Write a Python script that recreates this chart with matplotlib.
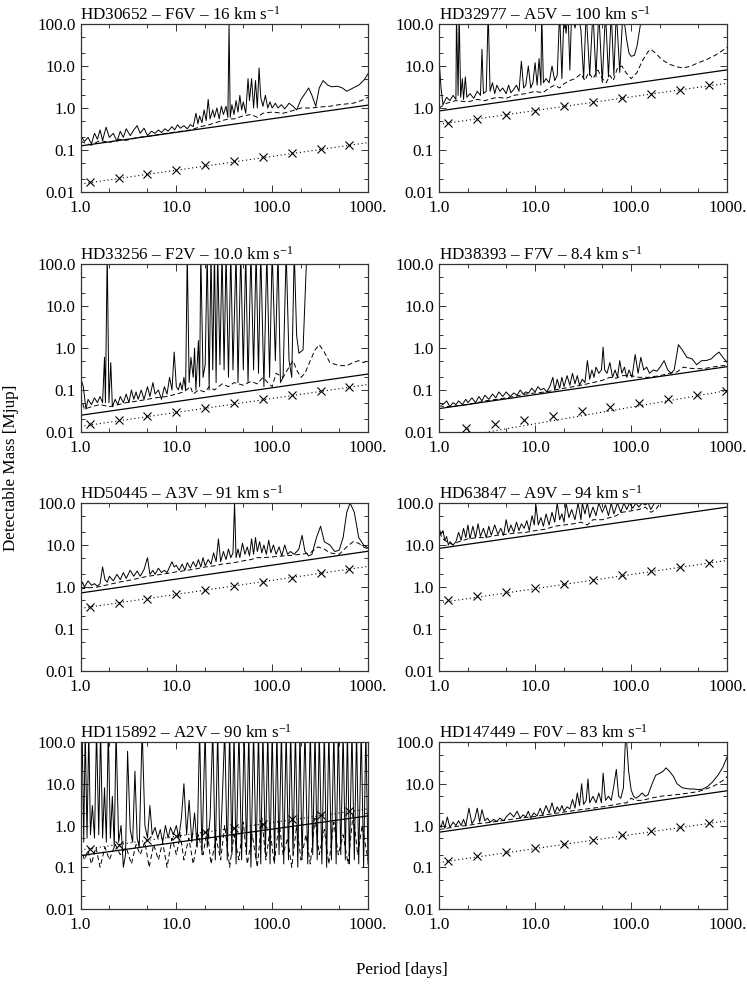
import numpy as np
import matplotlib
matplotlib.use("Agg")
import matplotlib.pyplot as plt
from matplotlib.ticker import FixedLocator, NullFormatter

plt.rcParams["font.family"] = ["Liberation Serif", "DejaVu Serif"]
plt.rcParams["mathtext.fontset"] = "custom"
plt.rcParams["mathtext.rm"] = "Liberation Serif"
plt.rcParams["mathtext.it"] = "Liberation Serif:italic"

# ---- data: (period [d], detectable mass [Mjup]) ----
titles = [
    r"HD30652 – F6V – 16 km s$^{-1}$",
    r"HD32977 – A5V – 100 km s$^{-1}$",
    r"HD33256 – F2V – 10.0 km s$^{-1}$",
    r"HD38393 – F7V – 8.4 km s$^{-1}$",
    r"HD50445 – A3V – 91 km s$^{-1}$",
    r"HD63847 – A9V – 94 km s$^{-1}$",
    r"HD115892 – A2V – 90 km s$^{-1}$",
    r"HD147449 – F0V – 83 km s$^{-1}$",
]

hd30652_solid = [(1.0, .22), (1.1, .16), (1.2, .2), (1.3, .14), (1.4, .25), (1.5, .18), (1.6, .3), (1.7, .17),
                 (1.85, .35), (2.0, .2), (2.2, .25), (2.4, .16), (2.6, .28), (2.8, .2), (3.0, .32), (3.3, .22),
                 (3.6, .3), (3.9, .38), (4.2, .25), (4.6, .33), (5.0, .22), (5.5, .28), (6.0, .25), (6.5, .3),
                 (7.0, .26), (7.6, .32), (8.2, .28), (9.0, .36), (9.6, .3), (10.3, .4), (11, .33), (12, .38),
                 (13, .32), (14, .4), (15, .36), (16, .75), (16.8, .42), (17.5, .65), (18.5, .45), (19.5, .9),
                 (20.5, .5), (21.5, 1.6), (22.5, .55), (24, .9), (25, .6), (26.5, 1.0), (28, .55), (29.5, 1.1),
                 (31, .7), (33, 1.1), (34.5, .6), (35.5, 100), (36.5, .6), (38, 1.2), (40, .7), (42, 1.5),
                 (44, .8), (46, 2.0), (48, .9), (50, 1.4), (53, .75), (56, 5.0), (58, 1.5), (61, 5.0), (64, 1.0),
                 (67, 4.5), (70, 1.0), (73, 9.0), (76, 1.8), (80, 1.1), (85, 2.0), (90, 1.0), (95, 1.4),
                 (100, 1.0), (108, 1.3), (115, 1.0), (125, 1.2), (135, .95), (150, 1.3), (165, 1.1), (180, .9),
                 (200, 1.6), (220, 2.2), (240, 3.0), (260, 2.0), (285, 1.1), (310, 3.0), (340, 4.5), (380, 3.5),
                 (420, 3.2), (480, 3.3), (540, 3.0), (600, 2.5), (700, 3.0), (800, 3.5), (900, 4.5), (1000, 6.5)]
hd30652_dash = [(1.0, .16), (1.3, .13), (1.6, .17), (2.0, .15), (2.5, .18), (3.0, .17), (4.0, .2), (5.0, .21),
                (7, .24), (10, .27), (14, .3), (18, .36), (22, .4), (26, .45), (30, .5), (35, .55), (40, .55),
                (50, .65), (60, .7), (70, .6), (80, .75), (100, .8), (130, .75), (160, .85), (200, 1.0),
                (260, 1.0), (300, 1.05), (400, 1.1), (500, 1.2), (700, 1.3), (850, 1.5), (1000, 1.8)]

hd32977_solid = [(1.0, 15), (1.05, 3), (1.1, 1.2), (1.2, 1.8), (1.3, 1.5), (1.4, 2.0), (1.5, 1.6), (1.52, 200),
                 (1.58, 2.0), (1.62, 200), (1.68, 1.8), (1.75, 5.0), (1.8, 1.6), (1.88, 5.5), (1.95, 1.8),
                 (2.1, 2.2), (2.3, 1.7), (2.5, 2.5), (2.7, 2.0), (2.8, 25), (2.9, 2.2), (3.1, 2.5), (3.25, 200),
                 (3.4, 2.5), (3.6, 4.0), (3.8, 2.2), (4.0, 3.5), (4.3, 2.5), (4.6, 3.0), (5.0, 2.2), (5.3, 3.5),
                 (5.6, 2.3), (6.0, 2.8), (6.4, 3.5), (6.8, 2.5), (7.2, 13), (7.6, 3.0), (8.0, 3.5), (8.5, 10),
                 (9.0, 3.0), (9.5, 4.0), (10.0, 12), (10.5, 3.5), (11, 15), (11.5, 3.5), (11.7, 200), (12.2, 4.0),
                 (13, 5.0), (14, 4.0), (15, 10), (16, 4.5), (17, 6.0), (18, 200), (19, 5.0), (20, 200), (21, 60),
                 (22, 200), (23, 8), (24, 200), (26, 80), (28, 200), (30, 70), (32, 5.0), (34, 200), (37, 6.0),
                 (40, 200), (43, 5.5), (46, 200), (50, 4.0), (54, 200), (58, 5.5), (62, 200), (66, 6.0),
                 (70, 200), (76, 7.0), (82, 200), (90, 40), (95, 20), (100, 17), (108, 18), (115, 30),
                 (125, 100), (140, 200), (1000, 200)]
hd32977_dash = [(1.0, 1.0), (1.2, 1.3), (1.5, 1.5), (2.0, 1.4), (2.5, 1.6), (3.0, 1.5), (4.0, 1.8), (5.0, 1.7),
                (6, 2.0), (8, 2.2), (10, 2.5), (12, 2.3), (14, 3.0), (16, 3.5), (18, 3.0), (20, 3.8), (23, 4.5),
                (26, 5.0), (30, 6.5), (33, 4.5), (36, 7.0), (40, 5.0), (45, 8.0), (50, 5.0), (55, 4.0),
                (60, 6.0), (65, 4.5), (72, 9.0), (80, 10.0), (88, 7.0), (100, 5.0), (115, 7.0), (130, 13),
                (150, 22), (160, 25), (180, 20), (210, 14), (250, 11), (300, 9.5), (350, 9.0), (420, 10),
                (500, 12), (600, 14), (750, 18), (1000, 28)]

hd33256_solid = [(1.0, .2), (1.07, .12), (1.14, .035), (1.2, .06), (1.3, .045), (1.4, .065), (1.5, .05),
                 (1.6, .07), (1.7, .05), (1.78, .6), (1.82, .05), (1.9, 200), (1.98, .05), (2.07, .45),
                 (2.15, .04), (2.3, .06), (2.45, .045), (2.6, .07), (2.8, .05), (3.0, .08), (3.2, .05), (3.4, .1),
                 (3.6, .06), (3.8, .09), (4.0, .06), (4.3, .1), (4.6, .06), (5.0, .12), (5.3, .07), (5.7, .15),
                 (6.0, .08), (6.5, .1), (7.0, .06), (7.5, .12), (8.0, .08), (8.5, .2), (9.0, .1), (9.5, .8),
                 (10, .12), (10.5, .1), (11, .15), (11.5, .1), (12, .2), (12.5, .1), (13, 200), (13.6, .15),
                 (14.2, .6), (15, .2), (15.5, 1.0), (16, .1), (17, 1.5), (17.5, .12), (18, 200), (19, .2),
                 (20, .4), (21, 200), (22, .1), (23, 200), (24, .3), (25, 200), (26, .15), (27, 200),
                 (28.5, .4), (30, 200), (31.5, .3), (33, 200), (35, .2), (37, 200), (39, .3), (42, 200),
                 (44, .15), (47, 200), (50, .3), (53, 200), (56, .15), (60, 200), (64, .3), (68, 200),
                 (72, .25), (76, 200), (82, .12), (88, 200), (94, .2), (100, 200), (108, .5), (115, 200),
                 (122, .15), (130, .2), (140, 200), (150, .5), (160, .2), (170, 200), (180, 2.0), (190, .75),
                 (210, .9), (230, 200), (1000, 200)]
hd33256_dash = [(1.0, .07), (1.1, .035), (1.3, .04), (1.6, .045), (2, .04), (2.5, .045), (3, .05), (4, .055),
                (5, .06), (6, .065), (8, .07), (10, .08), (12, .09), (14, .12), (15, .08), (17, .1), (20, .09),
                (22, .12), (25, .1), (30, .14), (35, .12), (40, .15), (50, .13), (60, .16), (70, .14), (80, .2),
                (90, .15), (100, .12), (110, .25), (130, .2), (150, .35), (165, .5), (180, .3), (200, .2),
                (220, .25), (250, .5), (280, .9), (310, 1.2), (350, .8), (400, .45), (500, .38), (600, .38),
                (700, .45), (800, .5), (900, .45), (1000, .5)]

hd38393_solid = [(1.0, .05), (1.1, .045), (1.2, .055), (1.3, .04), (1.4, .05), (1.5, .045), (1.6, .055),
                 (1.75, .045), (1.9, .06), (2.0, .05), (2.2, .065), (2.4, .05), (2.6, .07), (2.8, .055),
                 (3.0, .075), (3.3, .06), (3.6, .08), (3.9, .065), (4.2, .09), (4.6, .07), (5.0, .09),
                 (5.5, .07), (6.0, .085), (6.5, .075), (7.0, .1), (7.5, .08), (8.0, .09), (8.6, .085),
                 (9.2, .11), (10, .09), (10.7, .12), (11.5, .1), (12.3, .11), (13.2, .09), (14.2, .12),
                 (15.3, .2), (16, .1), (17, .18), (18, .11), (19, .2), (20, .12), (21.5, .22), (23, .13),
                 (24.5, .25), (26, .14), (27.5, .22), (29, .13), (31, .18), (33, .15), (35, .5), (37, .18),
                 (39, .3), (41, .2), (43, .35), (46, .25), (49, .3), (51, 1.05), (53, .3), (56, .25), (60, .45),
                 (64, .2), (68, .3), (72, .2), (76, .5), (80, .25), (85, .35), (90, .2), (95, .3), (102, .2),
                 (110, .7), (118, .25), (126, .6), (135, .3), (145, .35), (155, .25), (170, .3), (185, .28),
                 (200, .35), (220, .5), (240, .3), (260, .25), (280, .3), (310, 1.2), (340, .9), (380, .6),
                 (430, .55), (480, .4), (540, .5), (600, .5), (680, .55), (760, .7), (820, .8), (900, .6),
                 (1000, .45)]
hd38393_dash = [(1.0, .042), (1.2, .04), (1.5, .042), (2.0, .045), (2.5, .05), (3, .055), (4, .06), (5, .065),
                (6, .07), (8, .08), (10, .085), (13, .09), (16, .1), (20, .11), (25, .12), (30, .13), (40, .15),
                (50, .17), (60, .2), (70, .19), (80, .22), (100, .22), (120, .2), (150, .2), (200, .22),
                (250, .25), (300, .27), (350, .35), (400, .33), (500, .32), (600, .33), (700, .35), (800, .37),
                (900, .38), (1000, .38)]

hd50445_solid = [(1.0, 1.0), (1.05, 1.3), (1.1, 1.0), (1.2, 1.4), (1.3, 1.1), (1.4, 1.2), (1.5, 1.05),
                 (1.6, 1.2), (1.7, 3.0), (1.8, 1.5), (1.9, 1.3), (2.0, 1.8), (2.2, 1.4), (2.4, 2.0), (2.6, 1.5),
                 (2.8, 2.2), (3.0, 1.6), (3.3, 2.5), (3.6, 1.8), (3.9, 2.4), (4.2, 1.8), (4.6, 2.6), (5.0, 5.0),
                 (5.3, 2.0), (5.7, 2.5), (6.0, 2.0), (6.5, 2.8), (7.0, 2.2), (7.5, 2.5), (8.0, 2.2), (8.5, 3.0),
                 (9.0, 4.0), (9.5, 3.0), (10, 3.3), (10.7, 2.5), (11.5, 3.5), (12.3, 2.5), (13, 3.8), (14, 2.8),
                 (15, 4.0), (16, 3.0), (17, 4.5), (18, 3.0), (19, 5.0), (20, 3.2), (21.5, 4.5), (23, 3.5),
                 (24.5, 6.5), (26, 4.0), (27.5, 14), (29, 4.0), (31, 7.0), (33, 4.5), (35, 8.0), (37, 5.0),
                 (39, 6.5), (40.5, 100), (42, 5.0), (44, 8.0), (46, 5.0), (49, 11), (52, 6.0), (55, 9.0),
                 (58, 5.5), (61, 14), (64, 6.0), (67, 15), (70, 7.0), (74, 12), (78, 6.5), (82, 10), (87, 6.0),
                 (92, 13), (97, 6.5), (103, 10), (110, 6.0), (118, 9.0), (126, 5.5), (135, 10), (145, 6.0),
                 (155, 7.0), (170, 6.0), (190, 8.0), (205, 17), (220, 7.0), (240, 5.5), (260, 6.0), (290, 15),
                 (320, 28), (350, 12), (400, 10), (450, 7.0), (500, 7.5), (550, 15), (600, 60), (650, 100),
                 (720, 60), (800, 15), (900, 10), (1000, 8.5)]
hd50445_dash = [(1.0, .9), (1.2, .95), (1.5, 1.0), (2, 1.15), (2.5, 1.3), (3, 1.4), (4, 1.6), (5, 1.8), (6, 1.9),
                (8, 2.1), (10, 2.3), (13, 2.5), (16, 2.7), (20, 3.0), (25, 3.2), (30, 3.5), (40, 3.8), (50, 4.2),
                (60, 4.5), (70, 5.0), (80, 5.0), (100, 5.2), (130, 5.5), (160, 5.7), (200, 6.0), (250, 6.5),
                (300, 9.0), (350, 8.0), (400, 6.5), (500, 6.0), (600, 9.0), (700, 12), (800, 11), (900, 9.0),
                (1000, 8.0)]

hd63847_solid = [(1.0, 25), (1.05, 18), (1.1, 22), (1.15, 13), (1.2, 16), (1.25, 10), (1.3, 12), (1.4, 10),
                 (1.5, 12), (1.6, 20), (1.7, 13), (1.8, 25), (1.9, 15), (2.0, 30), (2.1, 14), (2.25, 28),
                 (2.4, 15), (2.55, 32), (2.7, 16), (2.9, 25), (3.1, 15), (3.3, 28), (3.5, 17), (3.8, 30),
                 (4.1, 18), (4.4, 25), (4.7, 17), (5.0, 40), (5.3, 20), (5.6, 30), (6.0, 20), (6.4, 35),
                 (6.8, 22), (7.2, 32), (7.7, 25), (8.2, 38), (8.7, 22), (9.3, 50), (9.8, 30), (10.2, 90),
                 (10.8, 30), (11.5, 45), (12.2, 28), (13, 55), (14, 30), (15, 60), (16, 35), (17, 100), (18, 40),
                 (19, 55), (20, 35), (21, 100), (22.5, 45), (24, 70), (26, 40), (28, 100), (30, 40), (31, 100),
                 (33, 55), (35, 100), (37, 45), (40, 80), (43, 50), (46, 100), (50, 60), (54, 90), (58, 50),
                 (62, 100), (66, 55), (72, 100), (78, 60), (84, 100), (90, 70), (96, 100), (104, 75),
                 (112, 100), (120, 80), (130, 100), (140, 90), (150, 100), (160, 70), (175, 100), (190, 150),
                 (1000, 150)]
hd63847_dash = [(1.0, 20), (1.1, 14), (1.2, 12), (1.3, 11), (1.4, 10), (1.6, 12), (1.8, 13), (2.0, 14),
                (2.5, 15), (3.0, 15), (4.0, 17), (5, 18), (6, 19), (8, 20), (10, 22), (13, 24), (16, 28), (20, 30),
                (25, 32), (30, 35), (35, 30), (40, 40), (50, 40), (60, 45), (70, 50), (80, 60), (100, 65),
                (120, 70), (140, 80), (160, 60), (180, 70), (200, 100), (220, 150), (1000, 150)]

hd115892_solid = [(1.0, .5), (1.04, 200), (1.08, .4), (1.12, 200), (1.17, .5), (1.22, 200), (1.27, .6),
                  (1.33, 3.0), (1.4, .5), (1.47, 200), (1.55, .6), (1.62, 200), (1.7, .5), (1.78, 8.0),
                  (1.86, .4), (1.95, 200), (2.05, .5), (2.15, 5.0), (2.25, .3), (2.35, 200), (2.5, .4),
                  (2.65, 1.0), (2.8, .1), (2.95, .2), (3.1, 60), (3.3, .8), (3.5, .4), (3.7, 20), (3.9, .5),
                  (4.1, .3), (4.4, 200), (4.7, 1.0), (5.0, .5), (5.3, 3.0), (5.6, .6), (6.0, .9), (6.4, .5),
                  (6.8, .8), (7.2, .4), (7.7, 1.0), (8.2, .5), (8.7, .9), (9.3, .6), (10, 1.0), (10.6, .5),
                  (11.3, 1.5), (12, 10), (12.8, .6), (13.6, 4.0), (14.5, .4), (15.5, 2.0), (16.5, .3),
                  (17.5, 200), (18.5, .2), (20, 200), (21, .3), (22.5, 1.5), (24, 200), (25.5, .15), (27, 200),
                  (28.5, .2), (30, 3), (32, 200), (34, .15), (36, 200), (38, .2), (40, 200), (42, .12),
                  (45, 200), (48, .15), (51, 200), (54, .2), (57, 200), (60, .1), (64, 200), (68, .15),
                  (72, 200), (76, .12), (80, 200), (85, .2), (90, 200), (95, .12), (100, 200), (106, .15),
                  (112, 200), (118, .2), (125, 200), (132, .12), (140, 200), (148, .15), (156, 200), (165, .2),
                  (175, 200), (185, .1), (195, 200), (205, .15), (220, 200), (235, .12), (250, 200), (265, .2),
                  (280, 200), (295, .15), (310, 200), (330, .12), (350, 200), (370, .1), (390, 200),
                  (415, .15), (440, 200), (465, .12), (490, 200), (520, .2), (550, 200), (580, .15),
                  (610, 200), (640, .12), (680, 200), (720, .15), (760, 200), (800, .12), (850, 200),
                  (900, .1), (950, 200), (1000, .12)]
hd115892_dash = [(1.0, .3), (1.1, .15), (1.2, .25), (1.3, .12), (1.45, .3), (1.6, .1), (1.8, .3), (2.0, .15),
                 (2.3, .35), (2.6, .2), (3.0, .3), (3.4, .12), (3.8, .35), (4.2, .2), (4.7, .4), (5.2, .1),
                 (5.8, .35), (6.5, .15), (7.2, .4), (8.0, .1), (9.0, .5), (10, .2), (11, .6), (12, .15),
                 (13.5, .5), (15, .12), (17, .6), (19, .2), (21, .8), (23, .12), (26, .5), (29, .15), (32, 1.0),
                 (36, .1), (40, .6), (45, .15), (50, 1.2), (55, .12), (62, .6), (70, .1), (78, 1.5), (86, .15),
                 (95, .8), (105, .12), (118, 1.2), (130, .2), (145, .5), (160, .1), (180, 1.0), (200, .15),
                 (225, .6), (250, .12), (280, 1.5), (310, .2), (350, .8), (390, .12), (440, 1.2), (490, .2),
                 (550, .6), (620, .12), (700, 2.0), (780, .2), (870, 1.0), (1000, .15)]

hd147449_solid = [(1.0, 1.1), (1.05, .9), (1.1, 1.3), (1.15, .85), (1.22, 1.6), (1.3, .9), (1.4, 1.2),
                  (1.5, 1.0), (1.6, 1.3), (1.7, 1.0), (1.8, 1.4), (1.9, 1.0), (2.05, 2.6), (2.2, 1.1),
                  (2.35, 1.4), (2.5, 2.6), (2.65, 1.2), (2.8, 2.4), (3.0, 1.3), (3.2, 1.5), (3.4, 1.2),
                  (3.7, 1.4), (4.0, 1.25), (4.3, 1.5), (4.7, 1.3), (5.0, 1.6), (5.5, 2.0), (6.0, 1.6),
                  (6.5, 2.2), (7.0, 1.5), (7.5, 1.8), (8.0, 1.6), (8.5, 2.2), (9.0, 1.5), (9.7, 2.0),
                  (10.5, 1.7), (11.3, 2.6), (12, 1.8), (13, 3.0), (14, 2.0), (15, 3.5), (16, 2.0), (17, 2.8),
                  (18, 2.2), (19, 3.0), (20, 2.2), (21.5, 2.8), (23, 2.5), (24.5, 4.2), (26, 2.6), (27.5, 6.0),
                  (29, 3.0), (30.5, 10), (32, 3.2), (34, 4.0), (35.5, 13), (37, 3.5), (40, 5.0), (43, 3.5),
                  (46, 6.0), (49, 3.5), (51, 18), (54, 4.0), (58, 5.0), (62, 4.0), (66, 9.0), (70, 22),
                  (74, 5.0), (78, 4.5), (83, 8.0), (88, 200), (94, 20), (100, 7.0), (106, 5.0), (112, 4.5),
                  (120, 5.0), (130, 6.0), (140, 5.0), (150, 5.5), (165, 10), (180, 16), (200, 18), (215, 20),
                  (230, 24), (250, 20), (275, 15), (300, 10), (340, 8.0), (400, 7.5), (450, 7.5), (500, 7.2),
                  (560, 7.5), (620, 8.5), (700, 11), (800, 16), (900, 25), (1000, 45)]
hd147449_dash = [(1.0, .8), (1.2, .85), (1.5, .95), (2, 1.0), (2.5, 1.1), (3, 1.15), (4, 1.25), (5, 1.35),
                 (7, 1.5), (10, 1.65), (15, 1.9), (20, 2.1), (30, 2.4), (40, 2.6), (50, 2.8), (60, 3.0),
                 (70, 3.2), (80, 3.4), (90, 3.5), (100, 4.5), (110, 4.0), (130, 4.0), (160, 4.5), (200, 5.0),
                 (300, 5.5), (400, 6.0), (500, 6.5), (600, 7.5), (700, 8.5), (800, 10), (900, 12), (1000, 15)]

solid_curves = [hd30652_solid, hd32977_solid, hd33256_solid, hd38393_solid,
                hd50445_solid, hd63847_solid, hd115892_solid, hd147449_solid]
dash_curves = [hd30652_dash, hd32977_dash, hd33256_dash, hd38393_dash,
               hd50445_dash, hd63847_dash, hd115892_dash, hd147449_dash]

# straight limit line: mass at P = 1 d and P = 1000 d
limit_ends = [(0.125, 1.17), (0.85, 8.1), (0.025, 0.24), (0.036, 0.36),
              (0.72, 7.1), (8.3, 80), (0.19, 1.7), (0.69, 6.8)]
# dotted line: mass at P = 1 d and P = 1000 d
dotted_ends = [(0.0155, 0.15), (0.41, 3.9), (0.0136, 0.135), (0.0063, 0.097),
               (0.31, 3.1), (0.42, 4.3), (0.26, 2.5), (0.13, 1.3)]
# X markers
marker_periods = [1.25, 2.5, 5, 10, 20, 40, 80, 160, 320, 640]
marker_periods_hd38393 = [1.9, 3.8, 7.6, 15.2, 30.4, 60.8, 121.6, 243, 486, 973]
marker_masses = [
    [0.017, 0.021, 0.027, 0.034, 0.043, 0.054, 0.068, 0.086, 0.108, 0.135],
    [0.44, 0.55, 0.69, 0.87, 1.1, 1.38, 1.74, 2.2, 2.75, 3.45],
    [0.0152, 0.019, 0.024, 0.030, 0.038, 0.048, 0.060, 0.076, 0.096, 0.12],
    [0.0124, 0.0155, 0.0195, 0.0245, 0.031, 0.039, 0.049, 0.062, 0.077, 0.096],
    [0.34, 0.42, 0.53, 0.67, 0.84, 1.06, 1.34, 1.68, 2.1, 2.65],
    [0.48, 0.6, 0.76, 0.95, 1.2, 1.5, 1.9, 2.4, 3.0, 3.75],
    [0.28, 0.35, 0.44, 0.55, 0.7, 0.88, 1.1, 1.4, 1.75, 2.2],
    [0.145, 0.183, 0.23, 0.29, 0.365, 0.46, 0.58, 0.73, 0.92, 1.16],
]

x_ticks = [1, 10, 100, 1000]
x_labels = ["1.0", "10.0", "100.0", "1000."]
y_ticks = [0.01, 0.1, 1, 10, 100]
y_labels = ["0.01", "0.1", "1.0", "10.0", "100.0"]
minor = [m * d for d in (0.01, 0.1, 1, 10, 100) for m in (2, 5)]

FS = 12.3
W, H = 747, 986
fig = plt.figure(figsize=(W / 100, H / 100), dpi=100)
cols = [(80.5, 287.5), (439.0, 288.3)]
rows = [(24, 192), (264, 432), (503, 671), (742, 909)]

for i in range(8):
    r, c = divmod(i, 2)
    left, width = cols[c]
    top, bottom = rows[r]
    ax = fig.add_axes([left / W, 1 - bottom / H, width / W, (bottom - top) / H])
    ax.set_xscale("log")
    ax.set_yscale("log")

    p, m = zip(*solid_curves[i])
    ax.plot(p, m, color="black", lw=0.7)
    p, m = zip(*dash_curves[i])
    ax.plot(p, m, color="black", lw=0.7, ls=(0, (5, 3)))
    ax.plot([1, 1000], limit_ends[i], color="black", lw=0.9)
    ax.plot([1, 1000], dotted_ends[i], color="black", lw=0.8, ls=(0, (1, 2.5)))
    mp = marker_periods_hd38393 if i == 3 else marker_periods
    ax.plot(mp, marker_masses[i], ls="none", marker="x", ms=6, mew=0.8, color="black")

    ax.set_xlim(1, 1000)
    ax.set_ylim(0.01, 100)
    ax.xaxis.set_major_locator(FixedLocator(x_ticks))
    ax.set_xticklabels(x_labels)
    ax.yaxis.set_major_locator(FixedLocator(y_ticks))
    ax.set_yticklabels(y_labels)
    ax.xaxis.set_minor_locator(FixedLocator(minor))
    ax.yaxis.set_minor_locator(FixedLocator(minor))
    ax.xaxis.set_minor_formatter(NullFormatter())
    ax.yaxis.set_minor_formatter(NullFormatter())
    ax.tick_params(which="both", direction="in", top=True, right=True, width=0.7, color="#333333")
    ax.tick_params(which="major", length=5)
    ax.tick_params(which="minor", length=3)
    ax.tick_params(axis="x", pad=6, labelsize=FS)
    ax.tick_params(axis="y", pad=3.5, labelsize=FS)
    for s in ax.spines.values():
        s.set_linewidth(0.9)
        s.set_color("#333333")
    ax.set_title(titles[i], loc="left", fontsize=FS, pad=2)

fig.text(11 / W, 1 - 468 / H, "Detectable Mass [Mjup]", rotation=90, ha="center", va="center", fontsize=FS)
fig.text(402 / W, 1 - 970 / H, "Period [days]", ha="center", va="center", fontsize=FS)

fig.savefig("out.png", dpi=100)
